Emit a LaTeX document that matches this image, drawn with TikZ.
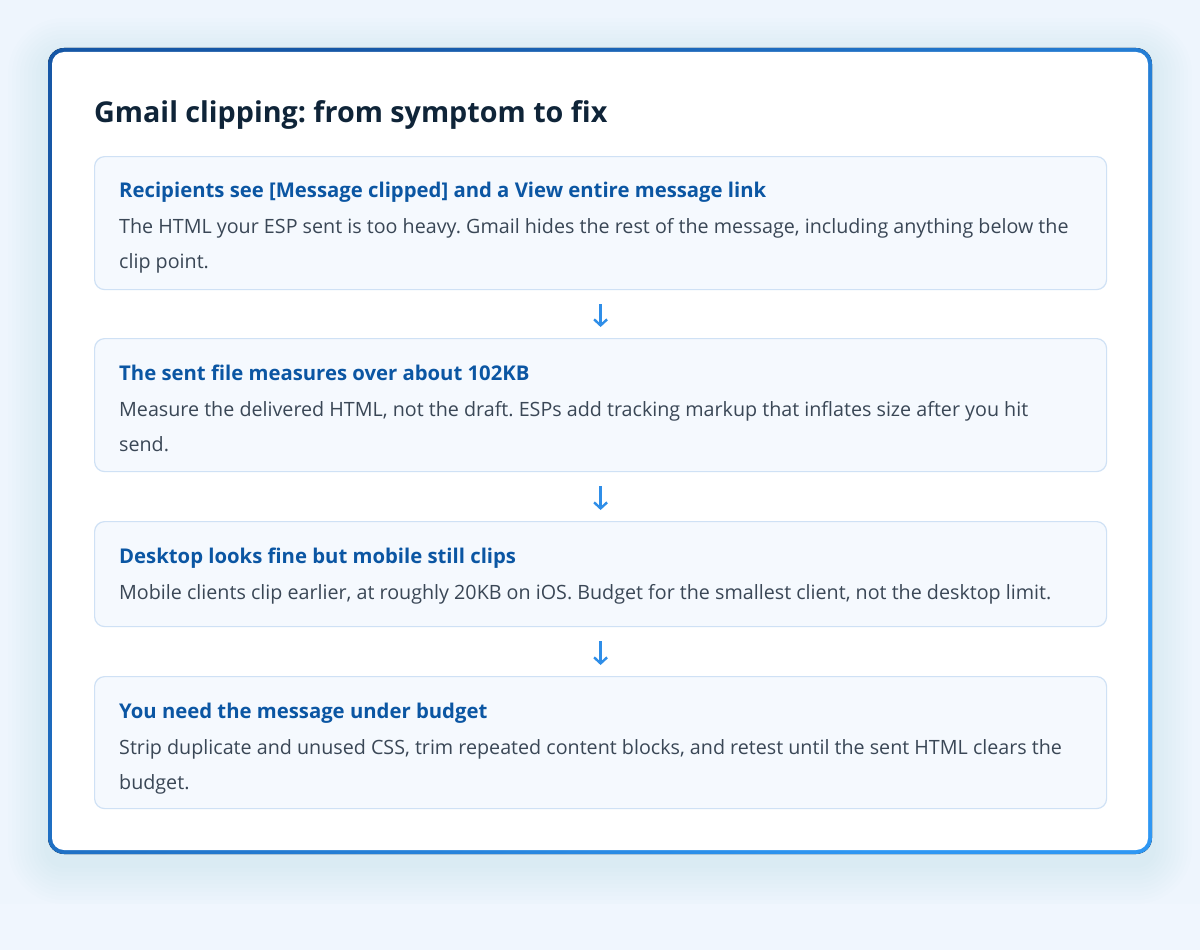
\documentclass[tikz,border=0pt]{standalone}
\usepackage{fontspec}
\setmainfont{Open Sans}
\usetikzlibrary{arrows.meta}
\frenchspacing

\definecolor{pagebg}{HTML}{EEF5FD}
\definecolor{bandbg}{HTML}{F0F6FE}
\definecolor{framedark}{HTML}{1657A6}
\definecolor{framelight}{HTML}{2E97F3}
\definecolor{headc}{HTML}{0F2438}
\definecolor{stepfill}{HTML}{F5F9FE}
\definecolor{stepline}{HTML}{CFE1F5}
\definecolor{steptitlec}{HTML}{0B56A3}
\definecolor{bodyc}{HTML}{3A4756}
\definecolor{arrowc}{HTML}{2F8EE8}

\begin{document}
\begin{tikzpicture}[x=1pt,y=-1pt,
    stepbox/.style={draw=stepline, line width=1.2pt, fill=stepfill, rounded corners=10pt,
      minimum width=1012pt, inner sep=0pt, anchor=north west},
    headline/.style={anchor=base west, inner sep=0pt, text=headc,
      font=\fontsize{28.7}{34}\selectfont\bfseries},
    steptitle/.style={anchor=base west, inner sep=0pt, text=steptitlec,
      font=\fontsize{20.3}{24}\selectfont\bfseries},
    stepbody/.style={anchor=base west, inner sep=0pt, text=bodyc, align=left,
      font=\fontsize{19.7}{35}\selectfont},
    flow/.style={draw=arrowc, line width=2.4pt, -{Straight Barb[length=6pt,width=13pt]},
      shorten <=14pt, shorten >=11pt}]

  % page and soft shadow
  \useasboundingbox (0,0) rectangle (1200,950);
  \fill[pagebg] (0,0) rectangle (1200,950);
  \fill[bandbg] (0,904) rectangle (1200,950);
  \foreach \g in {40,36,...,4} {
    \fill[framelight, opacity=0.008, rounded corners=16pt+\g]
      (48-\g,48-\g+10) rectangle (1152+\g,854+\g+10);
  }

  % card frame
  \fill[top color=framedark, bottom color=framelight, shading angle=45, rounded corners=16pt]
    (48,48) rectangle (1152,854);
  \fill[white, rounded corners=12pt] (52,52) rectangle (1148,850);

  \node[headline] (head) at (94,122) {Gmail clipping: from symptom to fix};

  % steps
  \node[stepbox, minimum height=133pt] (s1) at (94,156) {};
  \node[stepbox, minimum height=133pt] (s2) at (94,338) {};
  \node[stepbox, minimum height=105pt] (s3) at (94,521) {};
  \node[stepbox, minimum height=132pt] (s4) at (94,676) {};

  % body nodes sit on the baseline of their last line
  \node[steptitle] (t1) at (119,197) {Recipients see [Message clipped] and a View entire message link};
  \node[stepbody] (b1) at (119,268) {The HTML your ESP sent is too heavy. Gmail hides the rest of the message, including anything below the\\clip point.};

  \node[steptitle] (t2) at (119,380) {The sent file measures over about 102KB};
  \node[stepbody] (b2) at (119,451) {Measure the delivered HTML, not the draft. ESPs add tracking markup that inflates size after you hit\\send.};

  \node[steptitle] (t3) at (119,563) {Desktop looks fine but mobile still clips};
  \node[stepbody] (b3) at (119,599) {Mobile clients clip earlier, at roughly 20KB on iOS. Budget for the smallest client, not the desktop limit.};

  \node[steptitle] (t4) at (119,718) {You need the message under budget};
  \node[stepbody] (b4) at (119,789) {Strip duplicate and unused CSS, trim repeated content blocks, and retest until the sent HTML clears the\\budget.};

  % arrows
  \draw[flow] (s1.south) -- (s2.north);
  \draw[flow] (s2.south) -- (s3.north);
  \draw[flow] (s3.south) -- (s4.north);
\end{tikzpicture}
\end{document}
